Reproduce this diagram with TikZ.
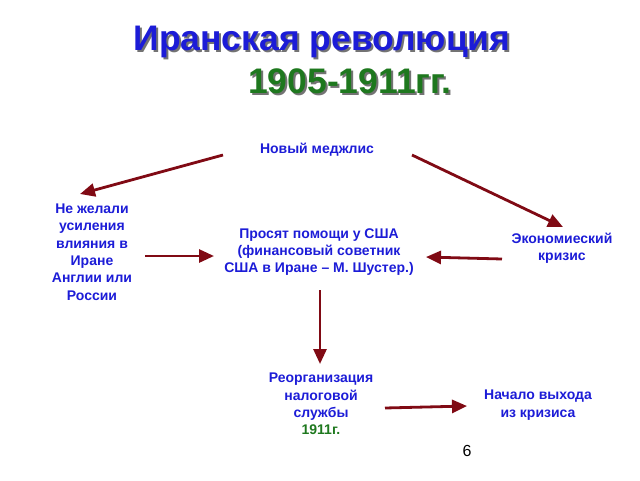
\documentclass[tikz,border=0pt]{standalone}
\usepackage{fontspec}
\setmainfont{Liberation Sans}
\usetikzlibrary{arrows.meta}
\definecolor{tblue}{RGB}{28,28,215}
\definecolor{tgreen}{RGB}{30,120,30}
\definecolor{ared}{RGB}{128,10,20}
\tikzset{
  lbl/.style={text=tblue, font=\bfseries\fontsize{14}{17.3}\selectfont, align=center, inner sep=0pt},
  arr/.style={draw=ared, line width=2.8pt, -{Triangle[length=15pt,width=13pt]}},
  shadowtxt/.style={text=black!55, inner sep=0pt}
}
\begin{document}
\begin{tikzpicture}[x=1pt,y=-1pt]
\useasboundingbox (0,0) rectangle (640,480);
% title
\node[shadowtxt, font=\bfseries\fontsize{35.5}{38}\selectfont] (titlesh) at (324,44) {Иранская революция};
\node[text=tblue, inner sep=0pt, font=\bfseries\fontsize{35.5}{38}\selectfont] (title) at (322,42) {Иранская революция};
\node[shadowtxt, font=\bfseries\fontsize{35.5}{38}\selectfont] (yearsh) at (352,83) {1905-1911гг.};
\node[text=tgreen, inner sep=0pt, font=\bfseries\fontsize{35.5}{38}\selectfont] (year) at (350,81) {1905-1911гг.};
% nodes
\node[lbl] (mej) at (317,150) {Новый меджлис};
\node[lbl] (neg) at (92,252) {Не желали\\усиления\\влияния в\\Иране\\Англии или\\России};
\node[lbl] (usa) at (319,252) {Просят помощи у США\\(финансовый советник\\США в Иране – М. Шустер.)};
\node[lbl] (eco) at (562,248) {Экономиеский\\кризис};
\node[lbl] (reo) at (321,404) {Реорганизация\\налоговой\\службы\\\textcolor{tgreen}{1911г.}};
\node[lbl] (nach) at (538,405) {Начало выхода\\из кризиса};
\node[inner sep=0pt, font=\fontsize{16}{18}\selectfont] (num) at (467,451) {6};
% arrow endpoints
\coordinate (a1s) at (223,155); \coordinate (a1e) at (80,194);
\coordinate (a2s) at (412,155); \coordinate (a2e) at (563,227);
\coordinate (a3s) at (145,256); \coordinate (a3e) at (214,256);
\coordinate (a4s) at (502,259); \coordinate (a4e) at (426,257);
\coordinate (a5s) at (320,290); \coordinate (a5e) at (320,364);
\coordinate (a6s) at (385,408); \coordinate (a6e) at (467,406);
\draw[arr] (a1s) -- (a1e);
\draw[arr] (a2s) -- (a2e);
\draw[arr] (a3s) -- (a3e);
\draw[arr] (a4s) -- (a4e);
\draw[arr] (a5s) -- (a5e);
\draw[arr] (a6s) -- (a6e);
\end{tikzpicture}
\end{document}
